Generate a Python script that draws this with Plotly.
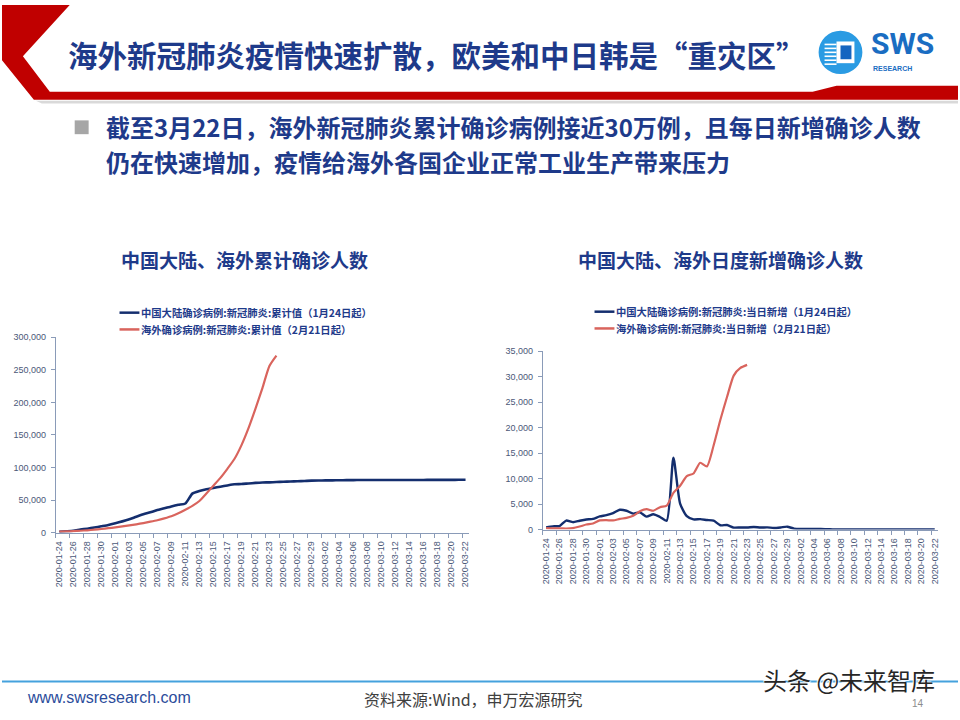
import plotly.graph_objects as go
import pandas as pd

W, H = 960, 720


def px(x):
    return x / W


def py(y):
    return 1 - y / H


# ---------------- data ----------------
dates = [d.strftime("%Y-%m-%d") for d in pd.date_range("2020-01-24", "2020-03-22")]

# 中国大陆确诊病例:新冠肺炎:累计值（1月24日起）
china_cum = [1287, 1975, 2744, 4515, 5974, 7711, 9692, 11791, 14380, 17205,
             20438, 24324, 28018, 31161, 34546, 37198, 40171, 42638, 44653, 59804,
             63851, 66492, 68500, 70548, 72436, 74185, 74576, 75465, 76288, 76936,
             77150, 77658, 78064, 78497, 78824, 79251, 79824, 80026, 80151, 80270,
             80409, 80552, 80651, 80695, 80735, 80754, 80778, 80793, 80813, 80824,
             80844, 80860, 80881, 80894, 80928, 80967, 81008, 81054, 81093]

# 海外确诊病例:新冠肺炎:累计值（2月21日起）
overseas_cum = [1300, 1700, 2200, 2800, 3500, 4400, 5500, 6700, 8000, 9400,
                11000, 12700, 14600, 16700, 19000, 21800, 25000, 29500, 35000, 41000,
                48500, 60000, 72000, 84000, 98000, 113000, 134000, 160000, 190000, 222000,
                256000, 272000]

# 中国大陆确诊病例:新冠肺炎:当日新增（1月24日起）
china_daily = [450, 640, 700, 1771, 1459, 1737, 1982, 2102, 2590, 2829,
               3235, 3887, 3694, 3143, 3385, 2552, 3000, 2478, 1750, 14108,
               5090, 2641, 2009, 2048, 1886, 1749, 850, 900, 397, 420,
               409, 508, 406, 433, 327, 427, 573, 202, 125, 119,
               139, 143, 99, 44, 40, 19, 24, 15, 20, 11,
               20, 16, 21, 13, 34, 39, 41, 46, 39]

# 海外确诊病例:新冠肺炎:当日新增（2月21日起）
overseas_daily = [300, 250, 250, 220, 300, 600, 1000, 1200, 1800, 1850,
                  1800, 2100, 2300, 2700, 3600, 4000, 3700, 4400, 4700, 7200,
                  8600, 10500, 11000, 13100, 12400, 16500, 21500, 26000, 30200, 31700,
                  32300]

left_ticks = [0, 50000, 100000, 150000, 200000, 250000, 300000]
right_ticks = [0, 5000, 10000, 15000, 20000, 25000, 30000, 35000]

legend_left = ["中国大陆确诊病例:新冠肺炎:累计值（1月24日起）",
               "海外确诊病例:新冠肺炎:累计值（2月21日起）"]
legend_right = ["中国大陆确诊病例:新冠肺炎:当日新增（1月24日起）",
                "海外确诊病例:新冠肺炎:当日新增（2月21日起）"]

# ---------------- style ----------------
BLUE = "#142E6E"
RED = "#D9645D"
AXIS = "#8A9BB8"
NAVY = "#1E3A8A"
CJK = "Noto Sans CJK SC"
LAT = "Liberation Sans, Arial"
TICKFONT = dict(family=LAT, size=9, color="#4A5878")

fig = go.Figure()

fig.add_trace(go.Scatter(x=dates, y=china_cum, mode="lines", xaxis="x", yaxis="y",
                         line=dict(color=BLUE, width=2.6, shape="spline", smoothing=0.6),
                         showlegend=False, name=legend_left[0]))
fig.add_trace(go.Scatter(x=dates[:len(overseas_cum)], y=overseas_cum, mode="lines", xaxis="x", yaxis="y",
                         line=dict(color=RED, width=2.2, shape="spline", smoothing=0.6),
                         showlegend=False, name=legend_left[1]))
fig.add_trace(go.Scatter(x=dates, y=china_daily, mode="lines", xaxis="x2", yaxis="y2",
                         line=dict(color=BLUE, width=2.4, shape="spline", smoothing=0.6),
                         showlegend=False, name=legend_right[0]))
fig.add_trace(go.Scatter(x=dates[:len(overseas_daily)], y=overseas_daily, mode="lines", xaxis="x2", yaxis="y2",
                         line=dict(color=RED, width=2.2, shape="spline", smoothing=0.6),
                         showlegend=False, name=legend_right[1]))

xcommon = dict(type="category", categoryorder="array", categoryarray=dates,
               range=[-0.5, len(dates) - 0.5], tickmode="linear", tick0=0, dtick=2,
               tickangle=-90, showline=True, linecolor=AXIS, linewidth=1,
               ticks="outside", ticklen=4, tickcolor=AXIS, tickson="boundaries",
               ticklabelstandoff=4,
               tickfont=TICKFONT, showgrid=False, zeroline=False, fixedrange=True)
ycommon = dict(showline=True, linecolor=AXIS, linewidth=1, ticks="outside", ticklen=4,
               tickcolor=AXIS, tickfont=TICKFONT, showgrid=False, zeroline=False,
               ticklabelstandoff=3,
               tickformat=",", fixedrange=True)

fig.update_layout(
    width=W, height=H, margin=dict(l=0, r=0, t=0, b=0),
    paper_bgcolor="white", plot_bgcolor="rgba(0,0,0,0)",
    xaxis=dict(domain=[px(54), px(469)], anchor="y", **xcommon),
    yaxis=dict(domain=[py(535), py(337)], anchor="x", range=[0, 300000],
               tickmode="array", tickvals=left_ticks, **ycommon),
    xaxis2=dict(domain=[px(543), px(940)], anchor="y2", **xcommon),
    yaxis2=dict(domain=[py(532), py(351)], anchor="x2", range=[0, 35000],
                tickmode="array", tickvals=right_ticks, **ycommon),
)

shapes = []
annotations = []


def poly(points, color):
    d = "M " + " L ".join(f"{px(x):.5f},{py(y):.5f}" for x, y in points) + " Z"
    return dict(type="path", xref="paper", yref="paper", path=d, fillcolor=color,
                line=dict(width=0, color=color), layer="below")


# header frame
shapes.append(poly([(34, 97), (960, 97), (960, 100), (40, 100)], "#D9D9D9"))
shapes.append(poly([(0, 0), (68, 0), (21, 52), (48, 88), (814, 88), (838, 82), (960, 82),
                    (960, 96), (32, 96), (0, 56)], "#C00000"))

# logo
shapes.append(dict(type="circle", xref="paper", yref="paper", x0=px(820), x1=px(864),
                   y0=py(70), y1=py(26), fillcolor="#2A9BE3", line=dict(width=0)))
for yy in [40, 44, 48, 52, 56, 60]:
    shapes.append(dict(type="line", xref="paper", yref="paper", x0=px(826), x1=px(838),
                       y0=py(yy), y1=py(yy), line=dict(color="white", width=1.6)))
shapes.append(dict(type="rect", xref="paper", yref="paper", x0=px(838), x1=px(856),
                   y0=py(59), y1=py(37), fillcolor="white", line=dict(width=0)))
shapes.append(dict(type="rect", xref="paper", yref="paper", x0=px(842), x1=px(853),
                   y0=py(55), y1=py(41), fillcolor="#1565C0", line=dict(width=0)))
annotations.append(dict(x=px(871), y=py(59), xref="paper", yref="paper", xanchor="left",
                        yanchor="bottom", showarrow=False, text="<b>SWS</b>",
                        font=dict(family="Roboto, Liberation Sans", size=30, color="#1A6DC2")))
annotations.append(dict(x=px(873), y=py(59), xref="paper", yref="paper", xanchor="left",
                        yanchor="top", showarrow=False, text="<b>RESEARCH</b>",
                        font=dict(family=LAT, size=7, color="#1A6DC2")))

# header title
annotations.append(dict(x=px(64), y=py(50), xref="paper", yref="paper", xanchor="left",
                        yanchor="middle", showarrow=False,
                        text="<b>海外新冠肺炎疫情快速扩散，欧美和中日韩是“重灾区”</b>",
                        font=dict(family=CJK, size=29.5, color=NAVY)))

# bullet
shapes.append(dict(type="rect", xref="paper", yref="paper", x0=px(73), x1=px(87),
                   y0=py(131), y1=py(117), fillcolor="#A6A6A6", line=dict(width=0)))
annotations.append(dict(x=px(103), y=py(123.5), xref="paper", yref="paper", xanchor="left",
                        yanchor="middle", showarrow=False, borderpad=0,
                        text="<b>截至3月22日，海外新冠肺炎累计确诊病例接近30万例，且每日新增确诊人数</b>",
                        font=dict(family=CJK, size=24, color=NAVY)))
annotations.append(dict(x=px(103), y=py(158.5), xref="paper", yref="paper", xanchor="left",
                        yanchor="middle", showarrow=False, borderpad=0,
                        text="<b>仍在快速增加，疫情给海外各国企业正常工业生产带来压力</b>",
                        font=dict(family=CJK, size=24, color=NAVY)))

# chart titles
annotations.append(dict(x=px(244), y=py(258), xref="paper", yref="paper", xanchor="center",
                        yanchor="middle", showarrow=False, text="<b>中国大陆、海外累计确诊人数</b>",
                        font=dict(family=CJK, size=19, color=NAVY)))
annotations.append(dict(x=px(722), y=py(258), xref="paper", yref="paper", xanchor="center",
                        yanchor="middle", showarrow=False, text="<b>中国大陆、海外日度新增确诊人数</b>",
                        font=dict(family=CJK, size=19, color=NAVY)))


# legends (manual)
def legend(x0, y0, labels):
    for i, (lab, col) in enumerate(zip(labels, [BLUE, RED])):
        yy = y0 + i * 17
        shapes.append(dict(type="line", xref="paper", yref="paper", x0=px(x0), x1=px(x0 + 20),
                           y0=py(yy), y1=py(yy), line=dict(color=col, width=2.5)))
        annotations.append(dict(x=px(x0 + 20), y=py(yy), xref="paper", yref="paper",
                                xanchor="left", yanchor="middle", showarrow=False,
                                text=f"<b>{lab}</b>",
                                font=dict(family=CJK, size=10.3, color=NAVY)))


legend(118, 312, legend_left)
legend(595, 311, legend_right)

# footer
shapes.append(dict(type="line", xref="paper", yref="paper", x0=0, x1=1, y0=py(686), y1=py(686),
                   line=dict(color="#45A2DD", width=2)))
annotations.append(dict(x=px(23), y=py(702), xref="paper", yref="paper", xanchor="left",
                        yanchor="middle", showarrow=False, text="www.swsresearch.com",
                        font=dict(family=LAT, size=16, color="#2B4C9B")))
annotations.append(dict(x=px(473), y=py(704), xref="paper", yref="paper", xanchor="center",
                        yanchor="middle", showarrow=False, text="资料来源:Wind，申万宏源研究",
                        font=dict(family=CJK, size=16, color="#404040")))
annotations.append(dict(x=px(920), y=py(708), xref="paper", yref="paper", xanchor="center",
                        yanchor="middle", showarrow=False, text="14", borderpad=0,
                        font=dict(family=LAT, size=10, color="#8C8C8C")))
annotations.append(dict(x=px(851), y=py(684), xref="paper", yref="paper", xanchor="center",
                        yanchor="middle", showarrow=False, text="头条 @未来智库", borderpad=0,
                        font=dict(family=CJK, size=24, color="#262626",
                                  shadow="1px 1px 1px white, -1px -1px 1px white")))

fig.update_layout(shapes=shapes, annotations=annotations)

fig.write_html("out.html", config={"displayModeBar": False},
               post_script="document.body.style.margin='0';document.body.style.overflow='hidden';")
